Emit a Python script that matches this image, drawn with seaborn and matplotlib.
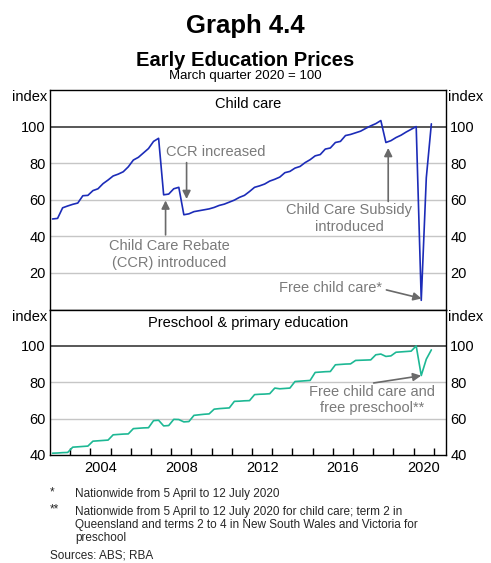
import numpy as np
import pandas as pd
import matplotlib
matplotlib.use("Agg")
import matplotlib.pyplot as plt
import seaborn as sns

# ---------------- data ----------------
start_year = 2002
end_year = 2020
quarter_labels = [f"{y}Q{q}" for y in range(start_year, end_year + 1) for q in range(1, 5)]

child_care = [
    49.5, 49.8, 55.6, 56.6,   # 2002
    57.5, 58.2, 62.2, 62.4,   # 2003
    65.0, 66.0, 68.8, 70.8,   # 2004
    73.0, 74.0, 75.3, 78.0,   # 2005
    81.7, 83.2, 85.6, 88.0,   # 2006
    91.9, 93.6, 62.7, 63.1,   # 2007
    66.0, 66.8, 51.8, 52.3,   # 2008
    53.5, 54.0, 54.5, 55.0,   # 2009
    55.8, 56.9, 57.6, 58.7,   # 2010
    59.8, 61.3, 62.4, 64.5,   # 2011
    66.8, 67.6, 68.6, 70.2,   # 2012
    71.2, 72.4, 74.8, 75.5,   # 2013
    77.3, 78.2, 80.3, 81.9,   # 2014
    84.0, 84.7, 87.7, 88.3,   # 2015
    91.3, 91.9, 95.1, 95.7,   # 2016
    96.6, 97.5, 99.0, 100.4,  # 2017
    101.6, 103.3, 91.3, 92.3, # 2018
    94.0, 95.3, 97.0, 98.5,   # 2019
    100.0, 5.0, 72.0, 101.5,  # 2020
]

preschool = [
    41.0, 41.1, 41.3, 41.4,   # 2002
    44.3, 44.5, 44.7, 44.9,   # 2003
    47.6, 47.8, 48.0, 48.2,   # 2004
    51.1, 51.3, 51.5, 51.6,   # 2005
    54.5, 54.7, 54.9, 55.0,   # 2006
    58.9, 59.1, 56.0, 56.2,   # 2007
    59.6, 59.5, 58.2, 58.4,   # 2008
    61.8, 62.1, 62.4, 62.6,   # 2009
    65.2, 65.5, 65.7, 65.9,   # 2010
    69.5, 69.6, 69.8, 69.9,   # 2011
    73.2, 73.4, 73.5, 73.7,   # 2012
    76.8, 76.4, 76.6, 76.8,   # 2013
    80.4, 80.6, 80.8, 81.0,   # 2014
    85.4, 85.6, 85.8, 85.9,   # 2015
    89.6, 89.8, 90.0, 90.1,   # 2016
    92.0, 92.1, 92.2, 92.3,   # 2017
    95.1, 95.5, 94.2, 94.5,   # 2018
    96.5, 96.7, 96.9, 97.1,   # 2019
    100.0, 83.7, 92.7, 97.8,  # 2020
]

top_yticks = [20, 40, 60, 80, 100]
bottom_yticks = [40, 60, 80, 100]
year_labels = [2004, 2008, 2012, 2016, 2020]

# quarter label -> decimal time at mid-quarter
def qpos(label):
    y, q = label.split("Q")
    return int(y) + (int(q) - 0.5) / 4.0

df = pd.DataFrame({
    "quarter": quarter_labels,
    "t": [qpos(s) for s in quarter_labels],
    "child_care": child_care,
    "preschool": preschool,
})

# ---------------- style ----------------
sns.set_theme(style="white")
plt.rcParams["font.family"] = ["Liberation Sans", "DejaVu Sans"]

BLUE = "#1c2cb8"
TEAL = "#1db894"
GREY_TXT = "#7a7a7a"
ARROW = "#6a6a6a"
GRID = "#c6c6c6"

W, H = 491, 563
fig = plt.figure(figsize=(W / 100, H / 100), dpi=100)

left, right = 50 / W, 446 / W
ax1 = fig.add_axes([left, 1 - 309.5 / H, right - left, (309.5 - 90) / H])
ax2 = fig.add_axes([left, 1 - 455 / H, right - left, (455 - 309.5) / H])

xmin, xmax = 2002.0, 2021.6

for ax in (ax1, ax2):
    ax.set_xlim(xmin, xmax)
    for s in ax.spines.values():
        s.set_color("black")
        s.set_linewidth(1.0)
    ax.tick_params(axis="y", which="both", length=0, labelleft=True,
                   labelright=True, labelsize=10.5, pad=3, colors="black")

# top panel
ax1.set_ylim(0, 120)
ax1.set_yticks(top_yticks)
for v in top_yticks[:-1]:
    ax1.axhline(v, color=GRID, lw=1.0, zorder=0)
ax1.axhline(100, color="#2a2a2a", lw=1.1, zorder=1)
sns.lineplot(data=df, x="t", y="child_care", ax=ax1, color=BLUE, lw=1.2, zorder=3)
ax1.set_xticks([])
ax1.set_xlabel("")
ax1.set_ylabel("")

# bottom panel
ax2.set_ylim(40, 120)
ax2.set_yticks(bottom_yticks)
for v in bottom_yticks[1:-1]:
    ax2.axhline(v, color=GRID, lw=1.0, zorder=0)
ax2.axhline(100, color="#2a2a2a", lw=1.1, zorder=1)
sns.lineplot(data=df, x="t", y="preschool", ax=ax2, color=TEAL, lw=1.2, zorder=3)
ax2.set_xlabel("")
ax2.set_ylabel("")
ax2.set_xticks(list(range(2003, 2022)))
ax2.set_xticklabels([])
ax2.set_xticks([y + 0.5 for y in year_labels], minor=True)
ax2.set_xticklabels([str(y) for y in year_labels], minor=True)
ax2.tick_params(axis="x", which="major", direction="in", length=5, width=1,
                color="black", bottom=True)
ax2.tick_params(axis="x", which="minor", length=0, labelsize=10.5, pad=4,
                colors="black", bottom=True)

# "index" labels
for ax, yf in ((ax1, 0.968), (ax2, 0.948)):
    ax.text(-0.008, yf, "index", transform=ax.transAxes, ha="right",
            va="center", fontsize=10.5, color="black")
    ax.text(1.006, yf, "index", transform=ax.transAxes, ha="left",
            va="center", fontsize=10.5, color="black")

# panel titles
ax1.text(0.5, 0.936, "Child care", transform=ax1.transAxes, ha="center",
         va="center", fontsize=10.5, color="black")
ax2.text(0.5, 0.909, "Preschool & primary education", transform=ax2.transAxes,
         ha="center", va="center", fontsize=10.5, color="black")

# annotations - top
ap = dict(arrowstyle="-|>", color=ARROW, lw=1.2, mutation_scale=12,
          shrinkA=0, shrinkB=0)
ax1.text(2010.2, 85.9, "CCR increased", ha="center", va="center",
         fontsize=10.5, color=GREY_TXT)
ax1.annotate("", xy=(2008.76, 60.4), xytext=(2008.76, 80.3), arrowprops=ap)

ax1.text(2007.9, 30.1, "Child Care Rebate\n(CCR) introduced", ha="center",
         va="center", fontsize=10.5, color=GREY_TXT, linespacing=1.25)
ax1.annotate("", xy=(2007.72, 59.6), xytext=(2007.72, 40.8), arrowprops=ap)

ax1.text(2016.8, 49.8, "Child Care Subsidy\nintroduced", ha="center",
         va="center", fontsize=10.5, color=GREY_TXT, linespacing=1.25)
ax1.annotate("", xy=(2018.74, 88.3), xytext=(2018.74, 59.1), arrowprops=ap)

ax1.text(2018.44, 11.6, "Free child care*", ha="right", va="center",
         fontsize=10.5, color=GREY_TXT)
ax1.annotate("", xy=(2020.39, 6.0), xytext=(2018.65, 10.7), arrowprops=ap)

# annotations - bottom
ax2.text(2017.95, 70.2, "Free child care and\nfree preschool**", ha="center",
         va="center", fontsize=10.5, color=GREY_TXT, linespacing=1.25)
ax2.annotate("", xy=(2020.37, 83.6), xytext=(2018.02, 79.6), arrowprops=ap)

# titles
fig.text(0.5, 1 - 33.3 / H, "Graph 4.4", ha="center", va="baseline",
         fontsize=18.5, weight="bold", color="black")
fig.text(0.5, 1 - 65.5 / H, "Early Education Prices", ha="center",
         va="baseline", fontsize=14.5, weight="bold", color="black")
fig.text(0.5, 1 - 78.5 / H, "March quarter 2020 = 100", ha="center",
         va="baseline", fontsize=9.5, color="black")

# footnotes
fs = 8.5
fig.text(50 / W, 1 - 492 / H, "*", ha="left", va="center", fontsize=fs)
fig.text(75 / W, 1 - 494 / H, "Nationwide from 5 April to 12 July 2020",
         ha="left", va="center", fontsize=fs)
fig.text(50 / W, 1 - 509.5 / H, "**", ha="left", va="center", fontsize=fs)
fig.text(75 / W, 1 - 511.5 / H,
         "Nationwide from 5 April to 12 July 2020 for child care; term 2 in",
         ha="left", va="center", fontsize=fs)
fig.text(75 / W, 1 - 524.8 / H,
         "Queensland and terms 2 to 4 in New South Wales and Victoria for",
         ha="left", va="center", fontsize=fs)
fig.text(75 / W, 1 - 538.2 / H, "preschool", ha="left", va="center", fontsize=fs)
fig.text(50 / W, 1 - 556 / H, "Sources: ABS; RBA", ha="left", va="center",
         fontsize=fs)

fig.savefig("out.png", dpi=100)
